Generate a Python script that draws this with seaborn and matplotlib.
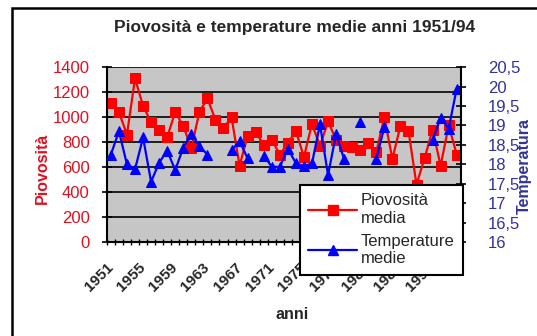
import numpy as np
import pandas as pd
import seaborn as sns
from matplotlib import pyplot as plt
from matplotlib.lines import Line2D
from matplotlib.patches import Rectangle

years = list(range(1951, 1995))

# piovosita media (mm)
rain = [1110, 1040, 860, 1310, 1090, 960, 900, 840, 1040, 930,
        750, 1040, 1150, 980, 910, 1000, 610, 850, 880, 780,
        820, 700, 790, 890, 680, 945, 770, 965, 820, 770,
        760, 740, 790, 720, 1000, 665, 930, 890, 460, 670,
        900, 610, 935, 700]

# temperature medie (°C), NaN where the series has no point
temp = [18.25, 18.85, 18.0, 17.87, 18.69, 17.55, 18.04, 18.35, 17.85, 18.43,
        18.78, 18.47, 18.25, np.nan, np.nan, 18.36, 18.6, 18.15, np.nan, 18.22,
        17.94, 17.93, 18.4, 18.03, 17.95, 18.02, 19.03, 17.72, 18.78, 18.13,
        np.nan, 19.09, np.nan, 18.14, 18.96, np.nan, np.nan, np.nan, np.nan, np.nan,
        18.62, 19.2, 18.92, 19.95]

rain_ticks = list(range(0, 1401, 200))
temp_ticks = [16 + 0.5 * k for k in range(10)]

RED = "#ff0000"
BLUE = "#0000ff"
RED_TXT = "#dd1122"
BLUE_TXT = "#333399"

df_rain = pd.DataFrame({"pos": np.arange(len(years)), "rain": rain})
df_temp = pd.DataFrame({"pos": np.arange(len(years)), "temp": temp})
# break the line where values are missing
df_temp["seg"] = df_temp["temp"].isna().cumsum()
df_temp = df_temp.dropna()

sns.set_style("white")
plt.rcParams["font.family"] = ["Liberation Sans", "DejaVu Sans"]

fig, ax = plt.subplots(figsize=(5.37, 3.36), dpi=100)
fig.subplots_adjust(left=0.199, right=0.858, bottom=0.28, top=0.80)

# outer chart frame
fig.patches.append(Rectangle((0.022, -0.2), 1.2, 1.176, transform=fig.transFigure,
                             fill=False, edgecolor="black", linewidth=1.8))

ax.set_facecolor("#c6c6c6")
sns.lineplot(data=df_rain, x="pos", y="rain", ax=ax, color=RED, marker="s",
             markersize=7.5, markeredgecolor=RED, linewidth=1.6)
ax.set_ylim(0, 1400)
ax.set_yticks(rain_ticks)
ax.grid(axis="y", color="black", linewidth=1.2)
ax.grid(axis="x", visible=False)
ax.set_axisbelow(True)

ax.set_xlim(-0.5, len(years) - 0.5)
ax.set_xticks(np.arange(0, len(years), 4))
ax.set_xticklabels([str(y) for y in years[::4]], rotation=45, ha="right",
                   va="center", rotation_mode="anchor", fontsize=11,
                   fontweight="bold")
ax.set_xticks(np.arange(-0.5, len(years), 1), minor=True)
ax.tick_params(axis="x", which="major", length=0, pad=17)
ax.tick_params(axis="x", which="minor", direction="inout", length=5,
               width=1, color="black", bottom=True)
ax.tick_params(axis="y", direction="inout", length=7, width=1.2, pad=9,
               color="black", labelcolor=RED_TXT, labelsize=12, left=True)

for side in ["left", "bottom"]:
    ax.spines[side].set_color("black")
    ax.spines[side].set_linewidth(1.5)
ax.spines["top"].set_visible(False)
ax.spines["right"].set_visible(False)

ax.set_xlabel("anni", fontsize=11.5, fontweight="bold")
ax.xaxis.set_label_coords(0.523, -0.37)
ax.set_ylabel("Piovosità", fontsize=11.5, fontweight="bold", color=RED_TXT)
ax.yaxis.set_label_coords(-0.16, 0.42)

ax2 = ax.twinx()
sns.lineplot(data=df_temp, x="pos", y="temp", units="seg", estimator=None,
             ax=ax2, color=BLUE, marker="^", markersize=7.5,
             markeredgecolor=BLUE, linewidth=1.6)
ax2.set_ylim(16, 20.5)
ax2.set_yticks(temp_ticks)
ax2.set_yticklabels([f"{t:g}".replace(".", ",") for t in temp_ticks])
ax2.tick_params(axis="y", direction="inout", length=7, width=1.2, pad=16,
                color="black", labelcolor=BLUE_TXT, labelsize=12, right=True)
ax2.grid(False)
ax2.spines["right"].set_color("black")
ax2.spines["right"].set_linewidth(1.5)
for side in ["top", "left", "bottom"]:
    ax2.spines[side].set_visible(False)
ax2.set_ylabel("Temperatura", fontsize=11.5, fontweight="bold", color=BLUE_TXT)
ax2.yaxis.set_label_coords(1.16, 0.434)

fig.text(0.549, 0.917, "Piovosità e temperature medie anni 1951/94",
         ha="center", va="center", fontsize=12.5, fontweight="bold")

leg_artists = [
    Line2D([0], [0], color=RED, marker="s", markersize=7.5, lw=1.6),
    Line2D([0], [0], color=BLUE, marker="^", markersize=7.5, lw=1.6),
]
leg = ax2.legend(leg_artists, ["Piovosità\nmedia", "Temperature\nmedie"],
                 loc="upper left", bbox_to_anchor=(300 / 537, 1 - 185 / 336),
                 bbox_transform=fig.transFigure, fontsize=12, frameon=True,
                 fancybox=False, framealpha=1, edgecolor="black",
                 handlelength=2.9, handletextpad=0.25, borderaxespad=0,
                 labelspacing=0.5, borderpad=0.5)
leg.get_frame().set_linewidth(1.5)

fig.savefig("out.png", dpi=100)
